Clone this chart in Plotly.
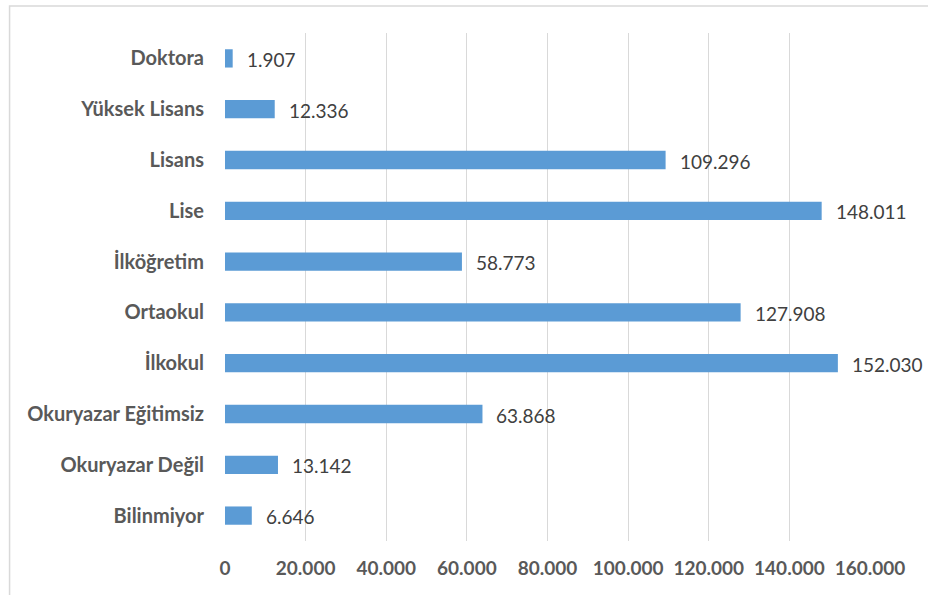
import plotly.graph_objects as go

# Education level counts (top to bottom as displayed)
categories = ["Doktora", "Yüksek Lisans", "Lisans", "Lise", "İlköğretim",
              "Ortaokul", "İlkokul", "Okuryazar Eğitimsiz", "Okuryazar Değil", "Bilinmiyor"]
values = [1907, 12336, 109296, 148011, 58773, 127908, 152030, 63868, 13142, 6646]

tick_values = [0, 20000, 40000, 60000, 80000, 100000, 120000, 140000, 160000]
tick_labels = ["0", "20.000", "40.000", "60.000", "80.000", "100.000", "120.000", "140.000", "160.000"]


def fmt_tr(n):
    return f"{n:,}".replace(",", ".")


# plot bottom-to-top so the first category sits at the top
cats_plot = categories[::-1]
vals_plot = values[::-1]

FONT = "Lato, Open Sans, sans-serif"

fig = go.Figure()
fig.add_trace(go.Bar(
    x=vals_plot,
    y=cats_plot,
    orientation="h",
    marker=dict(color="#5B9BD5", line=dict(width=0)),
    width=0.36,
    hoverinfo="skip",
))

for c, v in zip(cats_plot, vals_plot):
    fig.add_annotation(
        x=v, y=c, xref="x", yref="y",
        text=fmt_tr(v), showarrow=False,
        xanchor="left", yanchor="middle", xshift=12, yshift=-1,
        font=dict(family=FONT, size=19, color="#404040"),
    )

# outer chart frame
fig.add_shape(
    type="rect", xref="paper", yref="paper",
    x0=-0.334, x1=1.2, y0=-0.2, y1=1.053,
    line=dict(color="#D9D9D9", width=1.5), fillcolor="rgba(0,0,0,0)", layer="below",
)

fig.update_layout(
    width=928, height=595,
    margin=dict(l=224.5, r=57.5, t=33, b=54),
    paper_bgcolor="white", plot_bgcolor="white",
    showlegend=False,
    xaxis=dict(
        range=[0, 160000],
        tickvals=tick_values, ticktext=tick_labels,
        showgrid=True, gridcolor="#D9D9D9", gridwidth=1.2,
        zeroline=False, showline=False,
        ticks="", ticklabelstandoff=14,
        tickfont=dict(family=FONT, size=19, color="#595959", weight="bold"),
        fixedrange=True,
    ),
    yaxis=dict(
        categoryorder="array", categoryarray=cats_plot,
        showgrid=False, zeroline=False, showline=False,
        ticks="", ticklabelstandoff=20,
        tickfont=dict(family=FONT, size=20, color="#595959", weight="bold"),
        range=[-0.5, len(categories) - 0.5],
        fixedrange=True,
    ),
)

fig.write_html("out.html")
